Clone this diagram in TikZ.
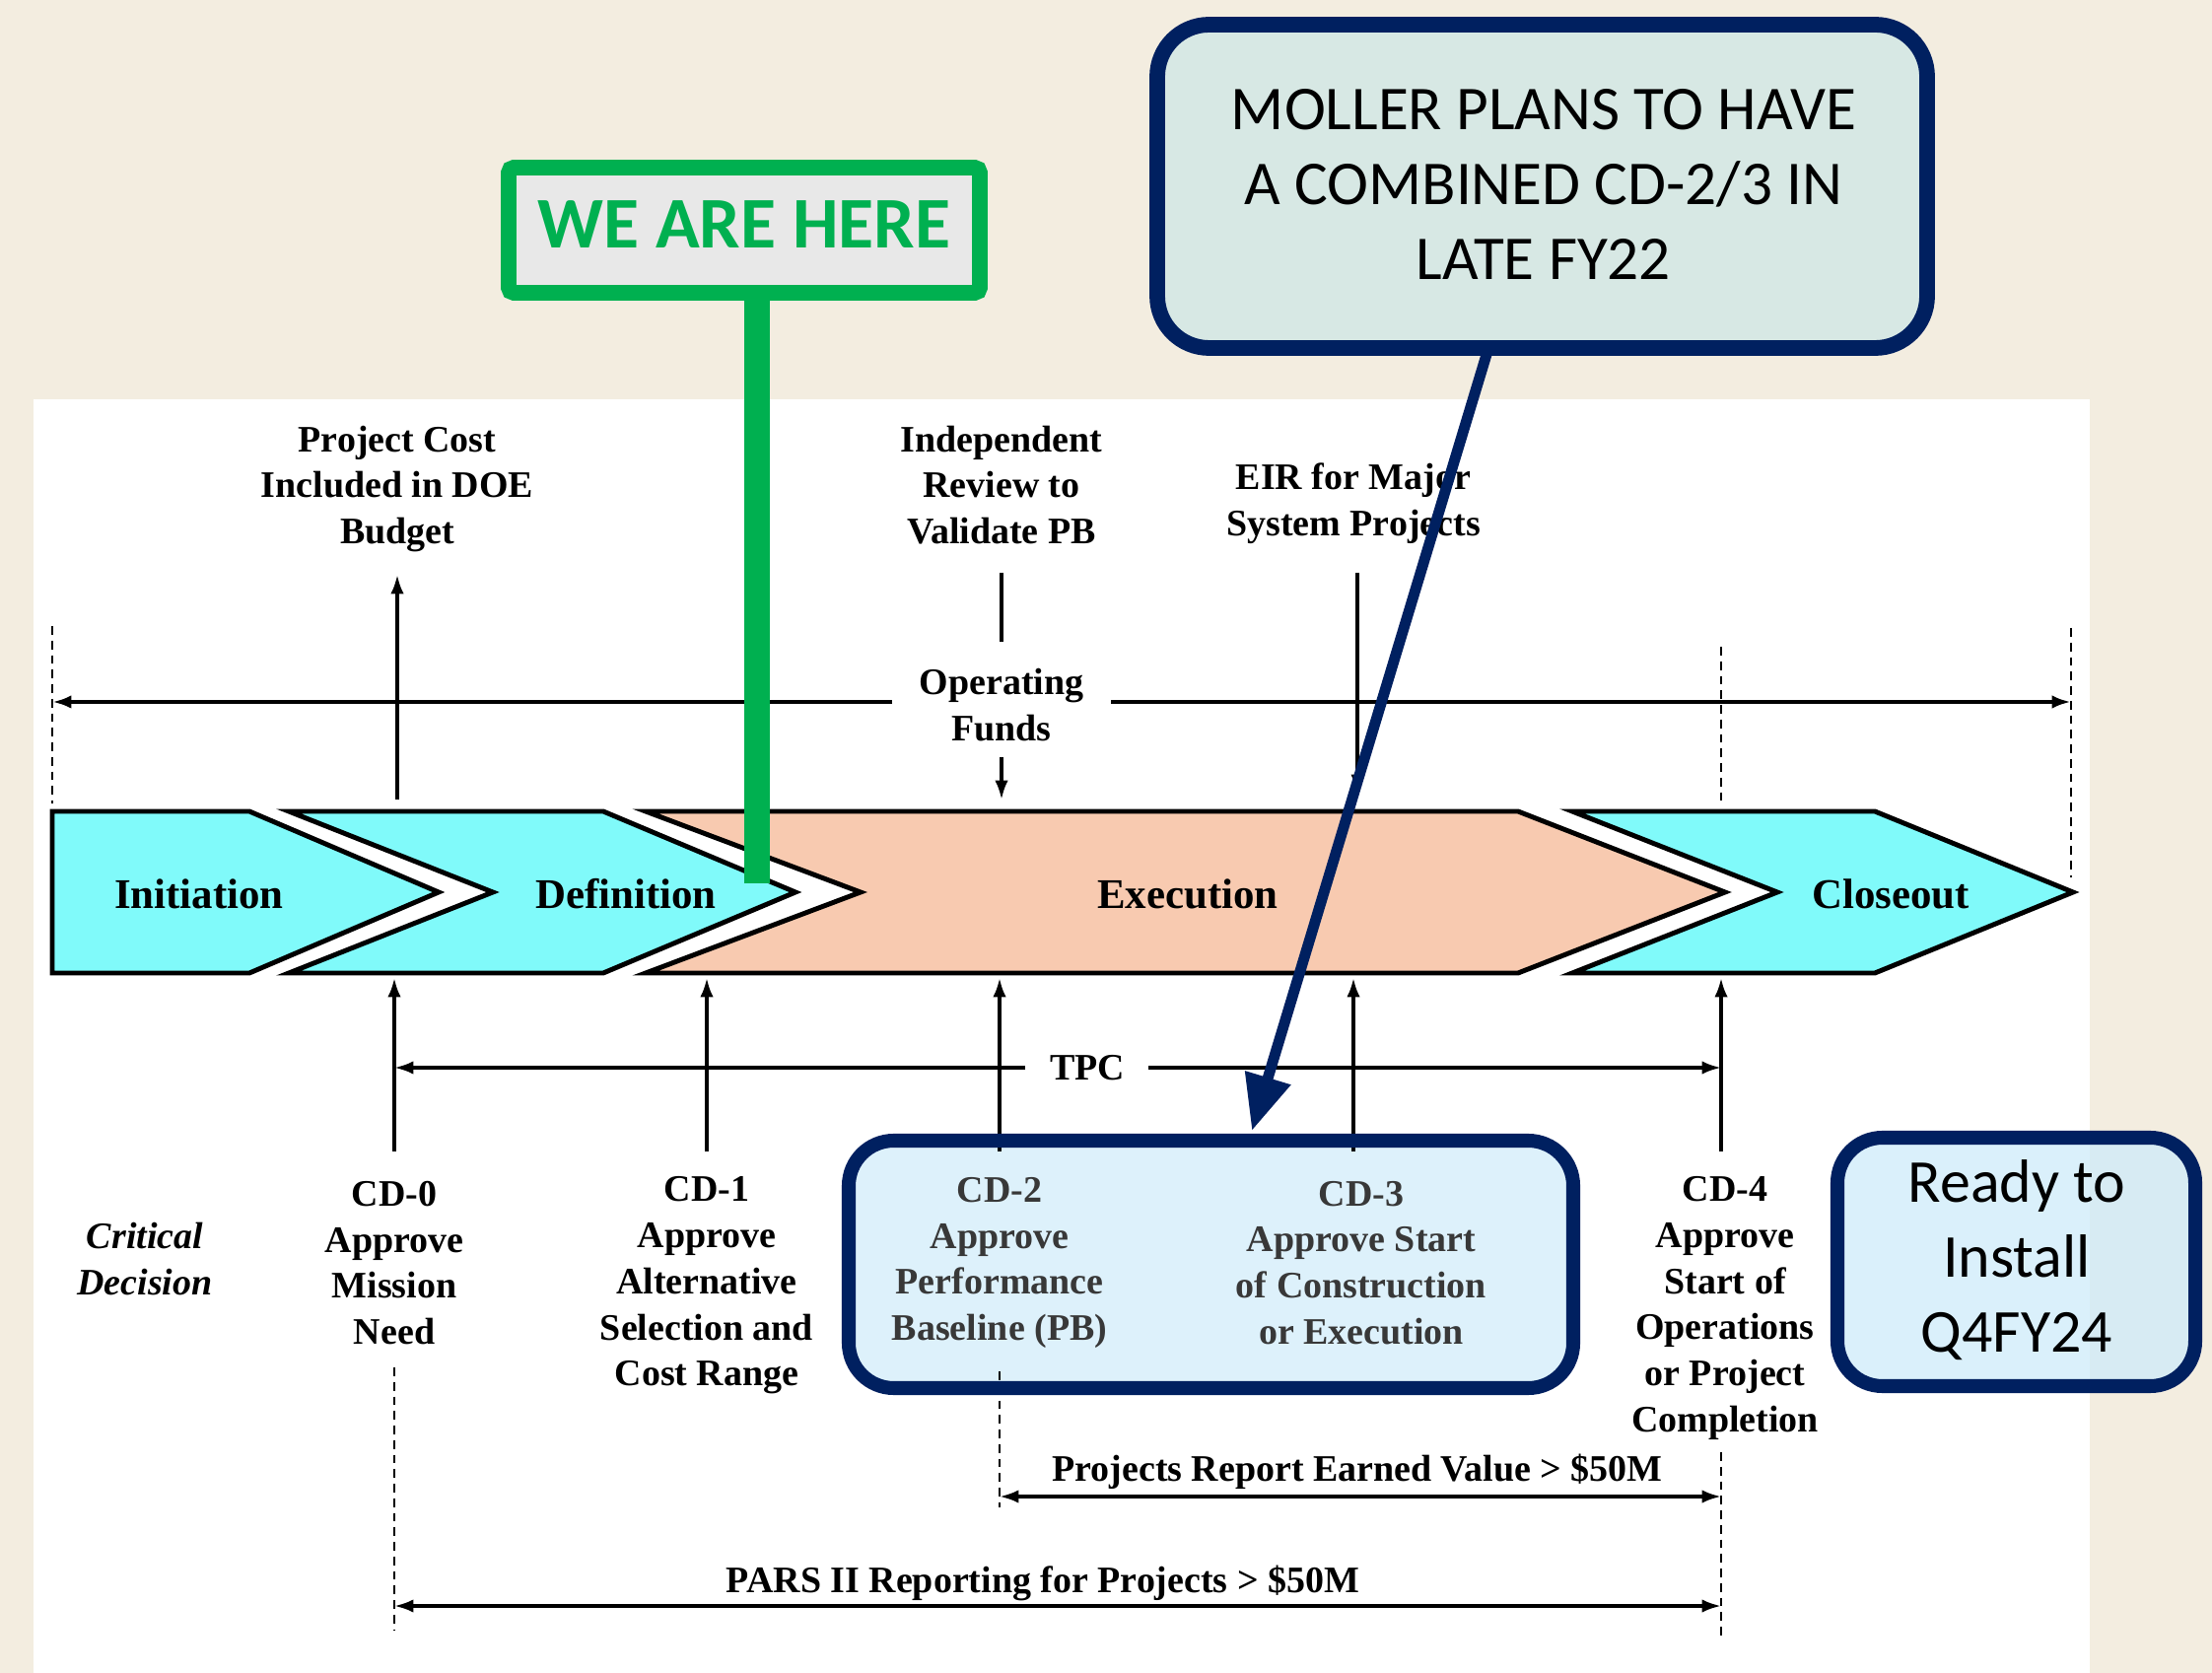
\documentclass[tikz,border=0pt]{standalone}
\usepackage{fontspec}
\setmainfont{Liberation Serif}
\newfontfamily\calib{Carlito}
\usetikzlibrary{arrows.meta}
\definecolor{beige}{RGB}{243,237,224}
\definecolor{cyanc}{RGB}{128,250,250}
\definecolor{peach}{RGB}{248,202,176}
\definecolor{navy}{RGB}{0,32,96}
\definecolor{grn}{RGB}{0,176,80}
\definecolor{lgray}{RGB}{232,232,232}
\definecolor{boxblue}{RGB}{206,235,250}
\definecolor{boxsolid}{RGB}{221,241,251}
\definecolor{mollerfill}{RGB}{215,232,228}
\tikzset{
  lbl/.style={font=\fontsize{10.8}{13.3}\selectfont\bfseries, align=center, inner sep=0pt},
  clbl/.style={font=\fontsize{12.2}{14}\selectfont\bfseries, inner sep=0pt},
  chev/.style={draw=black, line width=1.4pt, line join=miter},
  arr/.style={line width=0.95pt, -{Latex[length=5.5pt,width=3.8pt]}},
  darr/.style={line width=0.95pt, {Latex[length=5.5pt,width=3.8pt]}-{Latex[length=5.5pt,width=3.8pt]}},
  plain/.style={line width=0.95pt},
  dsh/.style={line width=0.6pt, dash pattern=on 2.5pt off 1.7pt},
  callout/.style={draw=navy, line width=4pt, rounded corners=13pt, fill=boxblue, fill opacity=0.75},
  cfont/.style={font=\calib\fontsize{17.6}{21.6}\selectfont, align=center, text opacity=1},
  inbox/.style={text=black!78}
}
\begin{document}
\begin{tikzpicture}[x=0.1mm,y=-0.1mm]
\useasboundingbox (0,0) rectangle (2244,1697);
\fill[beige] (0,0) rectangle (2244,1697);
\fill[white] (34,405) rectangle (2120,1697);

% CD-2/3 box fill (under its contents)
\fill[boxsolid, rounded corners=13pt] (861,1157) rectangle (1596,1408);

% chevrons
\filldraw[chev, fill=cyanc] (53,823) -- (253,823) -- (445,905) -- (253,987) -- (53,987) -- cycle;
\filldraw[chev, fill=cyanc] (293,823) -- (612,823) -- (807,905) -- (612,987) -- (293,987) -- (500,905) -- cycle;
\filldraw[chev, fill=peach] (655,823) -- (1540,823) -- (1750,905) -- (1540,987) -- (655,987) -- (873,905) -- cycle;
\filldraw[chev, fill=cyanc] (1595,823) -- (1902,823) -- (2103,905) -- (1902,987) -- (1595,987) -- (1803,905) -- cycle;

\node[clbl] (ini) at (202,907) {Initiation};
\node[clbl] (def) at (635,907) {Definition};
\node[clbl] (exe) at (1205,907) {Execution};
\node[clbl] (clo) at (1918,907) {Closeout};

% top texts
\node[lbl] (pc) at (403,496) {Project Cost\\Included in DOE\\Budget};
\node[lbl] (ir) at (1016,492) {Independent\\Review to\\Validate PB};
\node[lbl] (eir) at (1373,511) {EIR for Major\\System Projects};
\node[lbl] (of) at (1016,715) {Operating\\Funds};

% top connectors
\coordinate (pcB) at (403,811); \coordinate (pcT) at (403,583);
\draw[arr] (pcB) -- (pcT);
\coordinate (irT) at (1016,581); \coordinate (irB) at (1016,651);
\draw[plain] (irT) -- (irB);
\coordinate (ofT) at (1016,768); \coordinate (ofB) at (1016,811);
\draw[arr] (ofT) -- (ofB);
\coordinate (eirT) at (1377,581); \coordinate (eirB) at (1377,805);
\draw[arr] (eirT) -- (eirB);
\coordinate (ofL) at (905,712); \coordinate (ofLe) at (53,712);
\coordinate (ofR) at (1127,712); \coordinate (ofRe) at (2101,712);
\draw[arr, line width=1.2pt] (ofL) -- (ofLe);
\draw[arr, line width=1.2pt] (ofR) -- (ofRe);

% dashed verticals top
\coordinate (dl1) at (53,635); \coordinate (dl2) at (53,815);
\draw[dsh] (dl1) -- (dl2);
\coordinate (dr1) at (2101,637); \coordinate (dr2) at (2101,890);
\draw[dsh] (dr1) -- (dr2);
\coordinate (d41) at (1746,656); \coordinate (d42) at (1746,813);
\draw[dsh] (d41) -- (d42);

% critical decisions
\node[lbl, font=\fontsize{10.8}{13.3}\selectfont\bfseries\itshape] (crit) at (147,1277) {Critical\\Decision};
\node[lbl] (cd0) at (400,1281) {CD-0\\Approve\\Mission\\Need};
\node[lbl] (cd1) at (717,1304) {CD-1\\Approve\\Alternative\\Selection and\\Cost Range};
\node[lbl, inbox] (cd2) at (1014,1281) {CD-2\\Approve\\Performance\\Baseline (PB)};
\node[lbl, inbox] (cd3) at (1381,1281) {CD-3\\Approve Start\\of Construction\\or Execution};
\node[lbl] (cd4) at (1750,1327) {CD-4\\Approve\\Start of\\Operations\\or Project\\Completion};

% up arrows
\foreach \n/\x in {0/400,1/717,2/1014,3/1373,4/1746}{
  \coordinate (ua\n) at (\x,1168);
  \coordinate (ut\n) at (\x,992);
  \draw[arr] (ua\n) -- (ut\n);
}

% TPC
\node[lbl] (tpc) at (1103,1083) {TPC};
\coordinate (tpcL) at (1040,1083); \coordinate (tpcLe) at (400,1083);
\coordinate (tpcR) at (1165,1083); \coordinate (tpcRe) at (1746,1083);
\draw[arr] (tpcL) -- (tpcLe);
\draw[arr] (tpcR) -- (tpcRe);

% bottom dashed
\coordinate (b01) at (400,1387); \coordinate (b02) at (400,1653);
\draw[dsh] (b01) -- (b02);
\coordinate (b21) at (1014,1391); \coordinate (b22) at (1014,1529);
\draw[dsh] (b21) -- (b22);
\coordinate (b41) at (1746,1473); \coordinate (b42) at (1746,1662);
\draw[dsh] (b41) -- (b42);

% bottom spans
\node[lbl] (ev) at (1377,1493) {Projects Report Earned Value > \$50M};
\coordinate (evL) at (1014,1518); \coordinate (evR) at (1746,1518);
\draw[darr] (evL) -- (evR);
\node[lbl] (pars) at (1058,1606) {PARS II Reporting for Projects > \$50M};
\coordinate (paL) at (400,1629); \coordinate (paR) at (1746,1629);
\draw[darr] (paL) -- (paR);

% green sign
\coordinate (postT) at (768,298); \coordinate (postB) at (768,896);
\draw[grn, line width=7.4pt] (postT) -- (postB);
\draw[grn, line width=4.5pt, fill=lgray, rounded corners=1.5pt] (516,170) rectangle (994,297);
\node[font=\calib\fontsize{21}{24}\selectfont\bfseries, text=grn] (here) at (755,228) {WE ARE HERE};

% CD-2/3 callout border
\draw[draw=navy, line width=4pt, rounded corners=13pt] (861,1157) rectangle (1596,1408);
\coordinate (cd23) at (1228,1157);

% ready box
\draw[callout] (1864,1154) rectangle (2227,1406);
\node[cfont] (ready) at (2046,1278) {Ready to\\Install\\Q4FY24};

% moller box
\draw[draw=navy, line width=4.5pt, rounded corners=15pt, fill=mollerfill] (1174,25) rectangle (1955,353);
\node[cfont, font=\calib\fontsize{18}{21.6}\selectfont] (moller) at (1566,187) {MOLLER PLANS TO HAVE\\A COMBINED CD-2/3 IN\\LATE FY22};

% navy arrow
\coordinate (mA) at (1510,353);
\coordinate (mB) at (1270,1147);
\draw[navy, line width=3.1pt, -{Triangle[length=16pt,width=13pt]}] (mA) -- (mB);
\end{tikzpicture}
\end{document}
